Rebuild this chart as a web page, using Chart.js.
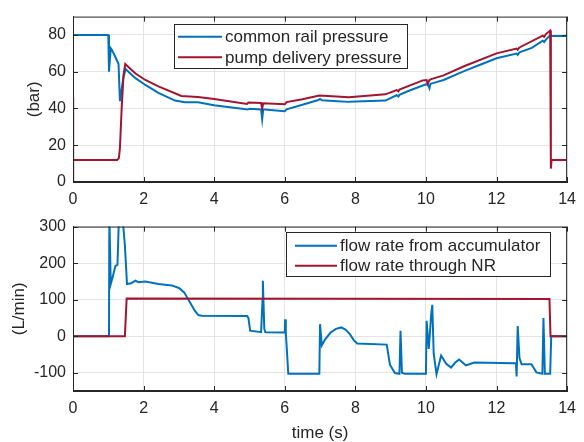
<!DOCTYPE html>
<html>
<head>
<meta charset="utf-8">
<script src="https://cdn.jsdelivr.net/npm/chart.js@4.4.1/dist/chart.umd.min.js"></script>
<style>
body { margin: 0; background: #fff; }
#wrap { position: relative; width: 584px; height: 442px; }
#top { position: absolute; left: 0; top: 0; }
#bot { position: absolute; left: 0; top: 210px; }
</style>
</head>
<body>
<div id="wrap">
<canvas id="top" width="584" height="210" style="width:584px;height:210px"></canvas>
<canvas id="bot" width="584" height="232" style="width:584px;height:232px"></canvas>
</div>
<script>
// top panel: pressures (bar)
var railT = [0, 1.0, 1.02, 1.07, 1.1, 1.2, 1.29, 1.33, 1.36, 1.42, 1.49, 1.6, 1.77, 2.05, 2.42, 2.89, 3.17, 3.54, 4.0, 4.5, 4.95, 5.0, 5.33, 5.36, 5.39, 5.42, 6.0, 6.05, 6.5, 6.95, 7.0, 7.05, 7.5, 7.82, 8.85, 9.17, 9.22, 9.25, 9.5, 9.91, 10.05, 10.1, 10.13, 10.2, 10.5, 11.08, 11.5, 12.0, 12.57, 12.6, 12.65, 13.0, 13.31, 13.35, 13.4, 13.52, 13.55, 14];
var railP = [80, 80, 60, 72.8, 72, 68, 64.2, 44, 48, 56, 61.5, 59.5, 56.5, 52.8, 48.5, 44.3, 43.4, 43.4, 41.8, 40.5, 39.4, 39.8, 39.5, 34.2, 39.5, 39.5, 38.5, 39.5, 42, 44.6, 45.2, 44.5, 44, 43.6, 44.3, 47.2, 46.5, 47.5, 49.5, 52.5, 53.4, 51, 53.4, 53.8, 55.5, 60.3, 63.5, 67.3, 69.9, 69.2, 70.5, 73, 76.9, 76.2, 77.5, 79.8, 79.5, 79.5];
var pumpT = [0, 0, 0.01, 1.25, 1.3, 1.33, 1.38, 1.43, 1.48, 1.6, 1.77, 2.05, 2.42, 3.07, 3.54, 4.0, 4.93, 4.97, 5.33, 5.36, 5.39, 6.0, 6.05, 6.5, 6.98, 7.82, 8.85, 9.17, 9.22, 9.25, 9.91, 10.02, 10.05, 10.1, 10.15, 10.5, 11.08, 12.0, 12.57, 12.6, 12.65, 13.31, 13.35, 13.4, 13.52, 13.54, 13.56, 14];
var pumpP = [0, 46, 12, 12, 13, 18.6, 40.5, 58, 64.2, 62, 59, 55.5, 52, 46.8, 46.3, 45.2, 42.5, 43.3, 43, 40, 42.8, 42.3, 43.5, 45, 47, 46.1, 47.7, 50, 49.3, 50.3, 55.3, 55.5, 53.5, 55.5, 56, 58, 63, 70, 72.6, 72, 73.2, 79.6, 79, 80.5, 82.4, 7.3, 12, 12];

// bottom panel: flow rates (L/min)
var accT = [0, 1.02, 1.03, 1.07, 1.12, 1.2, 1.26, 1.3, 1.33, 1.4, 1.47, 1.53, 1.65, 1.77, 1.85, 2.05, 2.42, 2.8, 3.0, 3.15, 3.3, 3.45, 3.55, 3.65, 4.93, 4.97, 5.02, 5.33, 5.37, 5.38, 5.42, 5.45, 6.0, 6.01, 6.03, 6.1, 6.98, 7.0, 7.05, 7.15, 7.3, 7.45, 7.6, 7.72, 7.85, 7.95, 8.05, 8.89, 8.98, 9.12, 9.25, 9.28, 9.32, 9.4, 10.0, 10.02, 10.08, 10.15, 10.18, 10.22, 10.3, 10.43, 10.57, 10.71, 10.83, 10.94, 11.04, 11.13, 11.25, 11.37, 12.48, 12.55, 12.57, 12.6, 12.65, 12.71, 12.99, 13.13, 13.3, 13.33, 13.37, 13.52, 13.55, 14];
var accQ = [0, 0, 330, 143, 160, 192, 196, 320, 340, 330, 249, 143, 145, 152, 148, 150, 143, 139, 132, 120, 95, 70, 58, 56, 55, 50, 15, 11, 100, 152, 20, 11, 10, 46, 10, -103, -103, 33, -25, -8, 10, 20, 24, 18, 5, -10, -20, -23, -78, -101, -103, 15, -100, -103, -103, 42, -35, 60, 86, -48, -104, -53, -75, -86, -72, -64, -72, -80, -76, -72, -74, -74, -110, 28, -60, -77, -77, -99, -103, 50, -103, -103, 0, 0];
var nrT = [0, 1.47, 1.52, 13.5, 13.53, 14];
var nrQ = [0, 0, 103, 101.5, 0, 0];

var xTicks = [0, 2, 4, 6, 8, 10, 12, 14];
var presTicks = [0, 20, 40, 60, 80];
var flowTicks = [-100, 0, 100, 200, 300];

var BLUE = '#0072BD';
var RED = '#A2142F';
var INK = '#262626';
var FONT = "'Liberation Sans', Arial, sans-serif";

Chart.defaults.font.family = FONT;
Chart.defaults.color = INK;

function pts(t, v) {
    var out = [];
    for (var i = 0; i < t.length; i++) out.push({x: t[i], y: v[i]});
    return out;
}

// box, inward ticks and legend like matlab
var matlabLook = {
    id: 'matlabLook',
    afterDraw: function(chart, args, opts) {
        var ctx = chart.ctx;
        var a = chart.chartArea;
        var xs = chart.scales.x, ys = chart.scales.y;
        ctx.save();
        ctx.strokeStyle = INK;
        ctx.lineWidth = 1;
        ctx.strokeRect(a.left + 0.5, a.top + 0.5, a.right - a.left - 1, a.bottom - a.top - 1);
        ctx.beginPath();
        xTicks.forEach(function(v) {
            var px = Math.round(xs.getPixelForValue(v)) + 0.5;
            ctx.moveTo(px, a.bottom); ctx.lineTo(px, a.bottom - 5);
            ctx.moveTo(px, a.top); ctx.lineTo(px, a.top + 5);
        });
        opts.yTicks.forEach(function(v) {
            var py = Math.round(ys.getPixelForValue(v)) + 0.5;
            ctx.moveTo(a.left, py); ctx.lineTo(a.left + 5, py);
            ctx.moveTo(a.right, py); ctx.lineTo(a.right - 5, py);
        });
        ctx.stroke();

        // legend box
        var L = opts.legend;
        ctx.fillStyle = '#fff';
        ctx.fillRect(L.x, L.y, L.w, L.h);
        ctx.strokeStyle = INK;
        ctx.strokeRect(L.x + 0.5, L.y + 0.5, L.w, L.h);
        ctx.font = '17px ' + FONT;
        ctx.textBaseline = 'middle';
        L.items.forEach(function(it, i) {
            var y = L.rows[i];
            ctx.strokeStyle = it.color;
            ctx.lineWidth = 2;
            ctx.beginPath();
            ctx.moveTo(L.lx0, y); ctx.lineTo(L.lx1, y);
            ctx.stroke();
            ctx.fillStyle = INK;
            ctx.fillText(it.text, L.tx, y + 1);
        });
        ctx.restore();
    }
};

function makeChart(id, sets, yMin, yMax, yTicks, yTitle, yTitlePad, xTitle, pad, xHeight, legend) {
    var ctx = document.getElementById(id).getContext('2d');
    return new Chart(ctx, {
        type: 'line',
        data: { datasets: sets },
        options: {
            responsive: false,
            animation: false,
            layout: { padding: pad },
            plugins: {
                legend: { display: false },
                tooltip: { enabled: false },
                matlabLook: { yTicks: yTicks, legend: legend }
            },
            elements: {
                point: { radius: 0 },
                line: { borderWidth: 2, tension: 0 }
            },
            scales: {
                x: {
                    type: 'linear',
                    min: 0, max: 14,
                    afterBuildTicks: function(s) { s.ticks = xTicks.map(function(v) { return {value: v}; }); },
                    afterFit: function(s) { s.height = xHeight; },
                    grid: { color: '#e4e4e4', drawTicks: false },
                    border: { color: INK },
                    ticks: { padding: 8, maxRotation: 0, font: { size: 16 }, color: INK },
                    title: { display: !!xTitle, text: xTitle, font: { size: 17, lineHeight: 1.0 }, color: INK, padding: { top: 0, bottom: 0 } }
                },
                y: {
                    type: 'linear',
                    min: yMin, max: yMax,
                    afterBuildTicks: function(s) { s.ticks = yTicks.map(function(v) { return {value: v}; }); },
                    afterFit: function(s) { s.width = 73; },
                    grid: { color: '#e4e4e4', drawTicks: false },
                    border: { color: INK },
                    ticks: { padding: 7, font: { size: 16 }, color: INK },
                    title: { display: true, text: yTitle, font: { size: 17, lineHeight: 1.2 }, color: INK, padding: { top: yTitlePad, bottom: 0 } }
                }
            }
        },
        plugins: [matlabLook]
    });
}

makeChart('top', [
    { label: 'common rail pressure', data: pts(railT, railP), borderColor: BLUE, backgroundColor: BLUE, fill: false, order: 1 },
    { label: 'pump delivery pressure', data: pts(pumpT, pumpP), borderColor: RED, backgroundColor: RED, fill: false, order: 0 }
], 0, 90, presTicks, '(bar)', 24, '', { top: 10, right: 10, left: 0, bottom: 0 }, 28, {
    x: 174, y: 24, w: 233, h: 44, lx0: 178, lx1: 222, tx: 225, rows: [36.7, 57.3],
    items: [{ text: 'common rail pressure', color: BLUE }, { text: 'pump delivery pressure', color: RED }]
});

makeChart('bot', [
    { label: 'flow rate from accumulator', data: pts(accT, accQ), borderColor: BLUE, backgroundColor: BLUE, fill: false, order: 1 },
    { label: 'flow rate through NR', data: pts(nrT, nrQ), borderColor: RED, backgroundColor: RED, fill: false, order: 0 }
], -150, 300, flowTicks, '(L/min)', 9, 'time (s)', { top: 11, right: 10, left: 0, bottom: 0 }, 51, {
    x: 286, y: 22, w: 264, h: 44, lx0: 295, lx1: 337, tx: 340, rows: [35.7, 55.7],
    items: [{ text: 'flow rate from accumulator', color: BLUE }, { text: 'flow rate through NR', color: RED }]
});
</script>
</body>
</html>
